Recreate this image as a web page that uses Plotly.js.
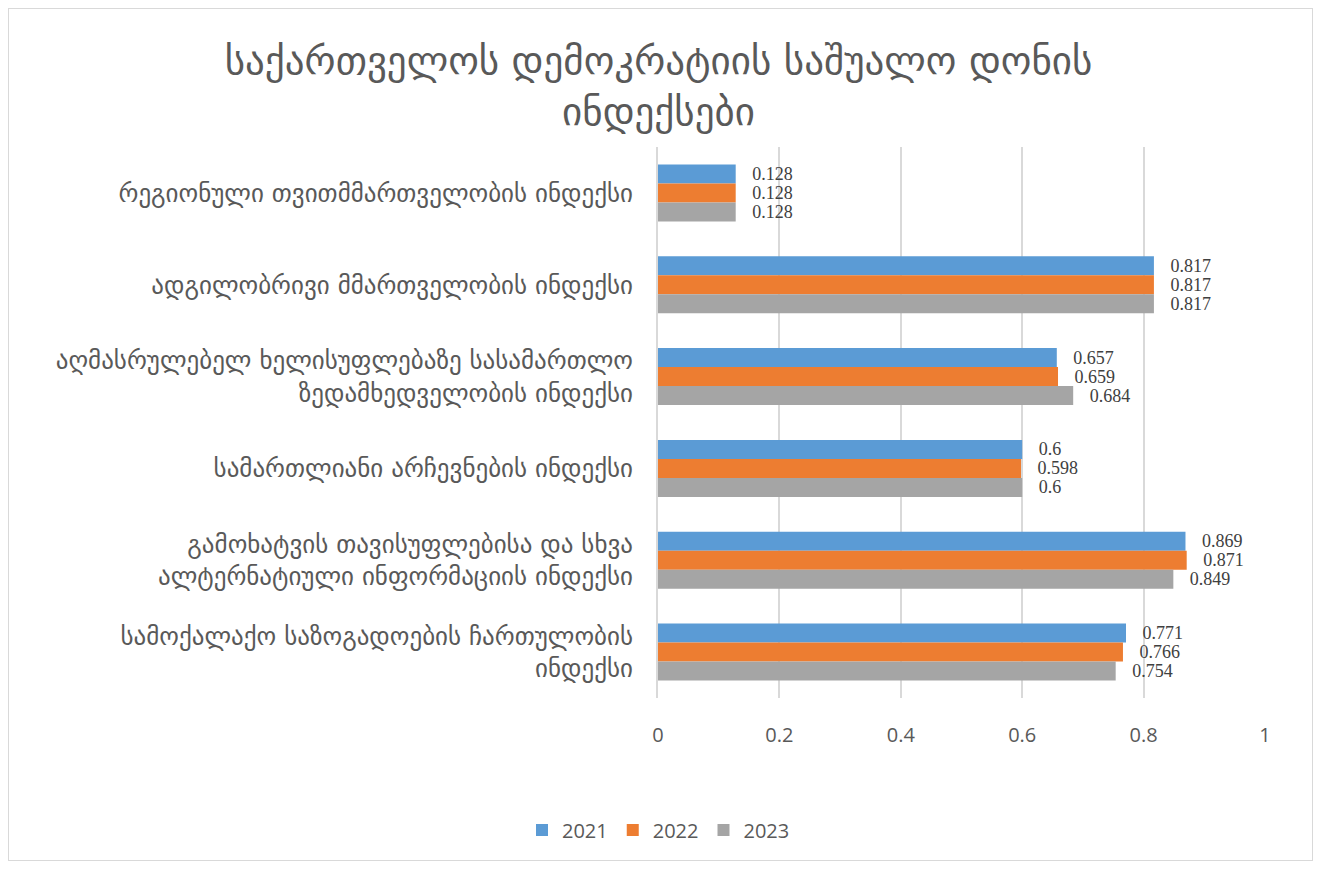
<!DOCTYPE html>
<html>
<head>
<meta charset="utf-8">
<script src="https://cdn.plot.ly/plotly-3.0.1.min.js"></script>
<style>
  html, body { margin: 0; padding: 0; background: #fff; }
  #wrap { position: relative; width: 1317px; height: 869px; }
  #chart { width: 1317px; height: 869px; }
  #frame { position: absolute; left: 8px; top: 8px; width: 1303px; height: 851px; border: 1px solid #d9d9d9; pointer-events: none; }
</style>
</head>
<body>
<div id="wrap"><div id="chart"></div><div id="frame"></div></div>
<script>
const categories = [
  "რეგიონული თვითმმართველობის ინდექსი",
  "ადგილობრივი მმართველობის ინდექსი",
  "აღმასრულებელ ხელისუფლებაზე სასამართლო<br>ზედამხედველობის ინდექსი",
  "სამართლიანი არჩევნების ინდექსი",
  "გამოხატვის თავისუფლებისა და სხვა<br>ალტერნატიული ინფორმაციის ინდექსი",
  "სამოქალაქო საზოგადოების ჩართულობის<br>ინდექსი"
];
const years = ["2021", "2022", "2023"];
const values2021 = [0.128, 0.817, 0.657, 0.6, 0.869, 0.771];
const values2022 = [0.128, 0.817, 0.659, 0.598, 0.871, 0.766];
const values2023 = [0.128, 0.817, 0.684, 0.6, 0.849, 0.754];
const xTicks = [0, 0.2, 0.4, 0.6, 0.8, 1];
const xTickLabels = ["0", "0.2", "0.4", "0.6", "0.8", "1"];
const colors = ["#5B9BD5", "#ED7D31", "#A5A5A5"];

const series = [values2021, values2022, values2023];
const traces = series.map((vals, i) => ({
  type: "bar",
  orientation: "h",
  name: years[i],
  y: categories,
  x: vals,
  marker: { color: colors[i] },
  text: vals.map(v => "\u00a0\u00a0\u00a0" + v),
  textposition: "outside",
  constraintext: "none",
  cliponaxis: false,
  textfont: { family: "Liberation Serif, Times New Roman, serif", size: 18, color: "#404040" },
  hoverinfo: "x+name"
}));

const layout = {
  width: 1317,
  height: 869,
  paper_bgcolor: "#ffffff",
  plot_bgcolor: "#ffffff",
  margin: { l: 658, r: 52, t: 147, b: 171, pad: 0 },
  barmode: "group",
  bargap: 0.38,
  bargroupgap: 0,
  title: {
    text: "საქართველოს დემოკრატიის საშუალო დონის<br>ინდექსები",
    font: { family: "DejaVu Sans, sans-serif", size: 39, color: "#595959" },
    x: 0.5, xref: "container", xanchor: "center",
    y: 0.915, yref: "container", yanchor: "middle"
  },
  xaxis: {
    range: [0, 1],
    tickvals: xTicks,
    ticktext: xTickLabels,
    showgrid: true,
    gridcolor: "#d9d9d9",
    gridwidth: 2,
    zeroline: false,
    showline: false,
    ticks: "",
    ticklen: 0,
    ticklabelstandoff: 23,
    tickfont: { family: "Open Sans, DejaVu Sans, sans-serif", size: 20, color: "#595959" },
    fixedrange: true
  },
  yaxis: {
    autorange: "reversed",
    type: "category",
    showgrid: false,
    zeroline: false,
    showline: true,
    linecolor: "#d9d9d9",
    linewidth: 2,
    ticks: "",
    ticklabelstandoff: 18,
    tickfont: { family: "DejaVu Sans, sans-serif", size: 25, color: "#595959" },
    fixedrange: true
  },
  showlegend: true,
  legend: {
    orientation: "h",
    x: 0.5, xref: "container", xanchor: "center",
    y: 0.045, yref: "container", yanchor: "middle",
    font: { family: "Open Sans, DejaVu Sans, sans-serif", size: 20, color: "#595959" },
    traceorder: "normal"
  }
};

Plotly.newPlot("chart", traces, layout, { displayModeBar: false, staticPlot: true });
</script>
</body>
</html>
